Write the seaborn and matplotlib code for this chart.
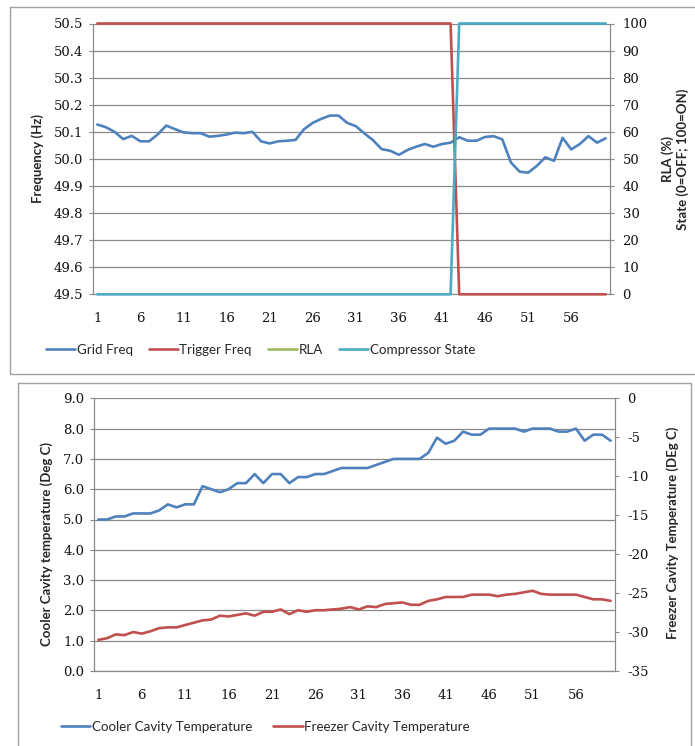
import numpy as np
import pandas as pd
import matplotlib
matplotlib.use("Agg")
import matplotlib.pyplot as plt
from matplotlib.lines import Line2D
from matplotlib.patches import Rectangle
from matplotlib.ticker import FixedLocator, MultipleLocator, FormatStrFormatter
import seaborn as sns

# ---- data -------------------------------------------------------------
points = list(range(1, 61))
label_points = list(range(1, 60, 5))

grid_freq = [50.127, 50.117, 50.100, 50.073, 50.085, 50.065, 50.065, 50.090, 50.123, 50.110,
             50.098, 50.095, 50.095, 50.082, 50.085, 50.090, 50.097, 50.095, 50.100, 50.065,
             50.057, 50.065, 50.067, 50.070, 50.110, 50.133, 50.148, 50.160, 50.160, 50.133,
             50.121, 50.094, 50.069, 50.036, 50.030, 50.015, 50.033, 50.045, 50.055, 50.045,
             50.055, 50.060, 50.080, 50.067, 50.067, 50.081, 50.084, 50.072, 49.987, 49.953,
             49.949, 49.974, 50.006, 49.993, 50.078, 50.035, 50.055, 50.084, 50.060, 50.076]
trigger_freq = [100] * 42 + [0] * 18
rla = [np.nan] * 60
compressor_state = [0] * 42 + [100] * 18

cooler_temp = [5.0, 5.0, 5.1, 5.1, 5.2, 5.2, 5.2, 5.3, 5.5, 5.4,
               5.5, 5.5, 6.1, 6.0, 5.9, 6.0, 6.2, 6.2, 6.5, 6.2,
               6.5, 6.5, 6.2, 6.4, 6.4, 6.5, 6.5, 6.6, 6.7, 6.7,
               6.7, 6.7, 6.8, 6.9, 7.0, 7.0, 7.0, 7.0, 7.2, 7.7,
               7.5, 7.6, 7.9, 7.8, 7.8, 8.0, 8.0, 8.0, 8.0, 7.9,
               8.0, 8.0, 8.0, 7.9, 7.9, 8.0, 7.6, 7.8, 7.8, 7.6]
freezer_temp = [-31.0, -30.8, -30.3, -30.4, -30.0, -30.2, -29.9, -29.5, -29.4, -29.4,
                -29.1, -28.8, -28.5, -28.4, -27.9, -28.0, -27.8, -27.6, -27.9, -27.4,
                -27.4, -27.1, -27.7, -27.2, -27.4, -27.2, -27.2, -27.1, -27.0, -26.8,
                -27.1, -26.7, -26.8, -26.4, -26.3, -26.2, -26.5, -26.5, -26.0, -25.8,
                -25.5, -25.5, -25.5, -25.2, -25.2, -25.2, -25.4, -25.2, -25.1, -24.9,
                -24.7, -25.1, -25.2, -25.2, -25.2, -25.2, -25.5, -25.8, -25.8, -26.0]

freq_df = pd.DataFrame({"point": points, "Grid Freq": grid_freq, "Trigger Freq": trigger_freq,
                        "RLA": rla, "Compressor State": compressor_state})
temp_df = pd.DataFrame({"point": points, "Cooler": cooler_temp, "Freezer": freezer_temp})

# ---- style ------------------------------------------------------------
sns.set_style("white")
plt.rcParams["font.family"] = ["Lato", "DejaVu Sans"]
plt.rcParams["axes.unicode_minus"] = False

BLUE, RED, GREEN, CYAN = "#4F81BD", "#C0504D", "#9BBB59", "#4BACC6"
GRID = "#8a8a8a"
LW = 1.9
TICK_FONT = dict(family="DejaVu Serif", size=9.5)
LABEL_FONT = dict(family="Lato", size=9.5, weight="bold")
LEGEND_FONT = dict(family="Lato", size=9.6)
W, H = 695, 746

fig = plt.figure(figsize=(W / 100, H / 100), dpi=100)


def frac(x0, y0, x1, y1):
    return [x0 / W, 1 - y1 / H, (x1 - x0) / W, (y1 - y0) / H]


def style_axes(ax, axr):
    ax.set_xlim(0.5, 60.5)
    ax.xaxis.set_major_locator(FixedLocator(label_points))
    ax.xaxis.set_minor_locator(FixedLocator(np.arange(0.5, 61, 1)))
    ax.tick_params(axis="x", which="major", length=0, pad=13)
    ax.tick_params(axis="x", which="minor", length=3.5, width=0.8, color=GRID, direction="out")
    ax.tick_params(axis="y", which="major", length=3, width=0.8, color=GRID, direction="out", pad=4)
    axr.tick_params(axis="y", which="major", length=3, width=0.8, color=GRID, direction="out", pad=6)
    for a in (ax, axr):
        for lab in a.get_xticklabels() + a.get_yticklabels():
            lab.set_fontfamily(TICK_FONT["family"])
            lab.set_fontsize(TICK_FONT["size"])
            lab.set_color("#111111")
        for s in a.spines.values():
            s.set_visible(False)
        a.set_xlabel("")
    ax.grid(axis="y", color=GRID, lw=0.9)
    ax.grid(axis="x", visible=False)
    axr.grid(False)
    ax.spines["left"].set_visible(True)
    ax.spines["bottom"].set_visible(True)
    axr.spines["right"].set_visible(True)
    for s in (ax.spines["left"], ax.spines["bottom"], axr.spines["right"]):
        s.set_color(GRID)
        s.set_linewidth(0.9)
    for a in (ax, axr):
        for ln in a.get_lines():
            ln.set_clip_on(False)
            ln.set_solid_joinstyle("round")


def centre_ylabel(ax, x, y):
    ax.yaxis.label.set_verticalalignment("center")
    ax.yaxis.label.set_horizontalalignment("center")
    ax.yaxis.set_label_coords(x, y)


# ---- top chart: grid frequency and compressor response ----------------
ax1 = fig.add_axes(frac(93, 23.5, 610, 294.3))
ax1r = ax1.twinx()
sns.lineplot(data=freq_df, x="point", y="Grid Freq", ax=ax1, color=BLUE, lw=LW)
sns.lineplot(data=freq_df, x="point", y="Trigger Freq", ax=ax1r, color=RED, lw=LW)
sns.lineplot(data=freq_df.dropna(subset=["RLA"]), x="point", y="RLA", ax=ax1r, color=GREEN, lw=LW)
sns.lineplot(data=freq_df, x="point", y="Compressor State", ax=ax1r, color=CYAN, lw=LW)
ax1.set_ylim(49.5, 50.5)
ax1.yaxis.set_major_locator(MultipleLocator(0.1))
ax1.yaxis.set_major_formatter(FormatStrFormatter("%.1f"))
ax1r.set_ylim(0, 100)
ax1r.yaxis.set_major_locator(MultipleLocator(10))
style_axes(ax1, ax1r)
ax1.set_ylabel("Frequency (Hz)", **LABEL_FONT)
ax1r.set_ylabel("RLA (%)\nState (0=OFF; 100=ON)", rotation=90, **LABEL_FONT, linespacing=1.25)
centre_ylabel(ax1, -0.107, 0.5)
centre_ylabel(ax1r, (675 - 93) / 517, 0.5)

handles_top = [Line2D([], [], color=c, lw=LW) for c in (BLUE, RED, GREEN, CYAN)]
fig.legend(handles_top, ["Grid Freq", "Trigger Freq", "RLA", "Compressor State"],
           loc="center left", bbox_to_anchor=(46 / W, 1 - 350 / H), ncol=4, frameon=False,
           prop=LEGEND_FONT, handlelength=2.2, handletextpad=0.1,
           columnspacing=1.2, borderpad=0, borderaxespad=0)

# ---- bottom chart: cavity temperatures --------------------------------
ax2 = fig.add_axes(frac(94, 398.3, 615, 671))
ax2r = ax2.twinx()
sns.lineplot(data=temp_df, x="point", y="Cooler", ax=ax2, color=BLUE, lw=LW)
sns.lineplot(data=temp_df, x="point", y="Freezer", ax=ax2r, color=RED, lw=LW)
ax2.set_ylim(0, 9)
ax2.yaxis.set_major_locator(MultipleLocator(1))
ax2.yaxis.set_major_formatter(FormatStrFormatter("%.1f"))
ax2r.set_ylim(-35, 0)
ax2r.yaxis.set_major_locator(MultipleLocator(5))
style_axes(ax2, ax2r)
ax2.set_ylabel("Cooler Cavity temperature (Deg C)", **LABEL_FONT)
ax2r.set_ylabel("Freezer Cavity Temperature (DEg C)", rotation=90, **LABEL_FONT)
centre_ylabel(ax2, (47 - 94) / 521, 0.466)
centre_ylabel(ax2r, (673 - 94) / 521, 0.506)

handles_bot = [Line2D([], [], color=c, lw=LW) for c in (BLUE, RED)]
fig.legend(handles_bot, ["Cooler Cavity Temperature", "Freezer Cavity Temperature"],
           loc="center left", bbox_to_anchor=(61 / W, 1 - 727 / H), ncol=2, frameon=False,
           prop=LEGEND_FONT, handlelength=2.2, handletextpad=0.1,
           columnspacing=1.6, borderpad=0, borderaxespad=0)

# ---- chart-area frames ------------------------------------------------
FRAME = "#a0a0a0"
fig.add_artist(Rectangle((10 / W, 1 - 374 / H), (W - 8) / W, 367 / H, transform=fig.transFigure,
                         fill=False, edgecolor=FRAME, lw=1.0))
for xs, ys in (([18, 18], [H + 5, 383]), ([18, 691], [383, 383]), ([691, 691], [383, H + 5])):
    fig.add_artist(Line2D([x / W for x in xs], [1 - y / H for y in ys], transform=fig.transFigure,
                          color=FRAME, lw=1.0))

fig.savefig("out.png", dpi=100, facecolor="white")
